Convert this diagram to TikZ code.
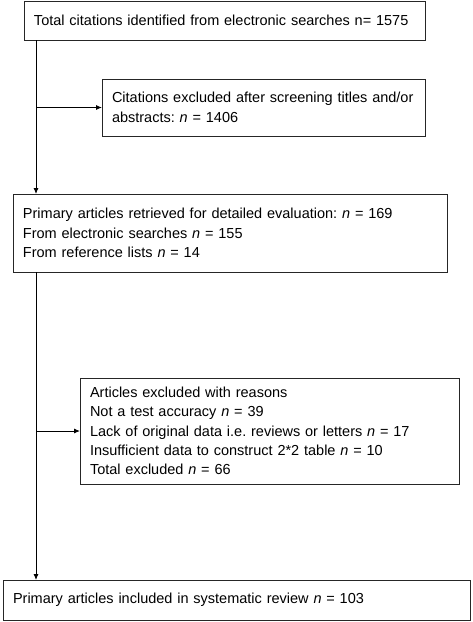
\documentclass[tikz,border=0pt]{standalone}
\usepackage{fontspec}
\setmainfont{Liberation Sans}
\usetikzlibrary{arrows.meta}
\begin{document}
\frenchspacing
\begin{tikzpicture}[x=1pt,y=-1pt,
  font=\fontsize{14.5pt}{19.4pt}\selectfont,
  box/.style={draw=black!85,line width=0.9pt,anchor=north west,align=left,inner xsep=10pt,inner ysep=0pt,outer sep=0pt},
  conn/.style={draw=black,line width=0.9pt,-{Latex[length=6pt,width=5pt]}}]
\useasboundingbox[fill=white] (0,0) rectangle (472,622);
\node[box,text width=381pt,minimum height=39pt] (b1) at (24,1) {Total citations identified from electronic searches n= 1575\\[-13.4pt]};
\node[box,text width=303pt,minimum height=57pt] (b2) at (102,79) {Citations excluded after screening titles and/or\\abstracts: \textit{n} = 1406};
\node[box,text width=414pt,minimum height=78pt] (b3) at (13,194) {Primary articles retrieved for detailed evaluation: \textit{n} = 169\\From electronic searches \textit{n} = 155\\From reference lists \textit{n} = 14\\[-6pt]};
\node[box,text width=359pt,minimum height=106pt] (b4) at (80,378) {Articles excluded with reasons\\Not a test accuracy \textit{n} = 39\\Lack of original data i.e. reviews or letters \textit{n} = 17\\Insufficient data to construct 2*2 table \textit{n} = 10\\Total excluded \textit{n} = 66};
\node[box,text width=447pt,minimum height=40pt] (b5) at (3,580) {Primary articles included in systematic review \textit{n} = 103\\[-8.4pt]};
\draw[conn] ([xshift=12pt]b1.south west) -- ([xshift=23pt]b3.north west);
\draw[conn] ([xshift=12pt]b1.south west |- b2.west) -- (b2.west);
\draw[conn] ([xshift=23pt]b3.south west) -- ([xshift=33pt]b5.north west);
\draw[conn] ([xshift=23pt]b3.south west |- b4.west) -- (b4.west);
\end{tikzpicture}
\end{document}
